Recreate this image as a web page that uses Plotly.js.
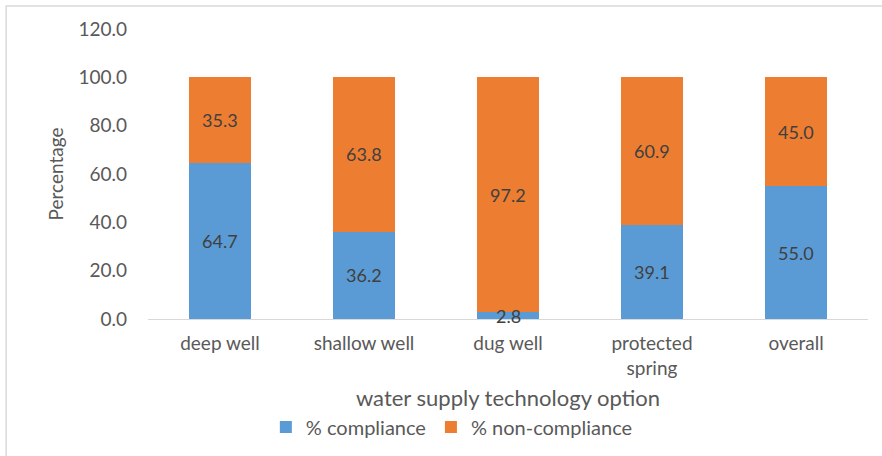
<!DOCTYPE html>
<html>
<head>
<meta charset="utf-8">
<script src="https://cdn.plot.ly/plotly-3.0.1.min.js"></script>
<style>html,body{margin:0;padding:0;background:#fff;}#chart{width:882px;height:456px;}</style>
</head>
<body>
<div id="chart"></div>
<script>
const categories = ["deep well", "shallow well", "dug well", "protected<br>spring", "overall"];
const compliance = [64.7, 36.2, 2.8, 39.1, 55.0];
const nonCompliance = [35.3, 63.8, 97.2, 60.9, 45.0];
const seriesNames = ["% compliance", "% non-compliance"];
const yTicks = [0, 20, 40, 60, 80, 100, 120];

const fontFam = "Lato, 'Open Sans', sans-serif";
const labelFont = {family: fontFam, size: 18, color: "#404040"};

const traces = [
  {type: "bar", name: seriesNames[0], x: categories, y: compliance,
   marker: {color: "#5B9BD5"}, textposition: "none", hoverinfo: "x+y"},
  {type: "bar", name: seriesNames[1], x: categories, y: nonCompliance,
   marker: {color: "#ED7D31"}, textposition: "none", hoverinfo: "x+y"}
];

// value labels centred in each stacked segment (positions from the data via axis scales)
const annotations = [];
categories.forEach((c, i) => {
  annotations.push({x: c, y: compliance[i] / 2, xref: "x", yref: "y",
    text: compliance[i].toFixed(1), showarrow: false, font: labelFont});
  annotations.push({x: c, y: compliance[i] + nonCompliance[i] / 2, xref: "x", yref: "y",
    text: nonCompliance[i].toFixed(1), showarrow: false, font: labelFont});
});

const layout = {
  width: 882, height: 456,
  margin: {l: 148, r: 14, t: 29, b: 137, autoexpand: false},
  barmode: "stack",
  bargap: 0.57,
  paper_bgcolor: "#fff", plot_bgcolor: "#fff",
  font: {family: fontFam, color: "#595959", size: 16},
  showlegend: true,
  legend: {orientation: "h", x: 0.422, xanchor: "center", y: -0.305, yanchor: "top",
           font: {family: fontFam, size: 20, color: "#595959"}, itemwidth: 30,
           traceorder: "normal", itemclick: false},
  annotations: annotations,
  xaxis: {
    type: "category", showgrid: false, showline: true, linecolor: "#d9d9d9", linewidth: 1,
    ticks: "", ticklabelstandoff: 7, tickfont: {family: fontFam, size: 19, color: "#595959"},
    title: {text: "water supply technology option", font: {family: fontFam, size: 22, color: "#595959"}, standoff: 13},
    automargin: false, fixedrange: true
  },
  yaxis: {
    range: [0, 120], tickvals: yTicks, ticktext: yTicks.map(v => v.toFixed(1)),
    showgrid: false, zeroline: false, showline: false, ticks: "", ticklabelstandoff: 20,
    tickfont: {family: fontFam, size: 19, color: "#595959"},
    title: {text: "Percentage", font: {family: fontFam, size: 19, color: "#595959"}, standoff: 9},
    automargin: false, fixedrange: true
  },
  shapes: [
    {type: "rect", xref: "paper", yref: "paper", x0: -0.197, x1: 1.1, y0: -0.6, y1: 1.079,
     line: {color: "#d9d9d9", width: 1.5}, fillcolor: "rgba(0,0,0,0)", layer: "below"}
  ]
};

Plotly.newPlot("chart", traces, layout, {displayModeBar: false, staticPlot: true});
</script>
</body>
</html>
